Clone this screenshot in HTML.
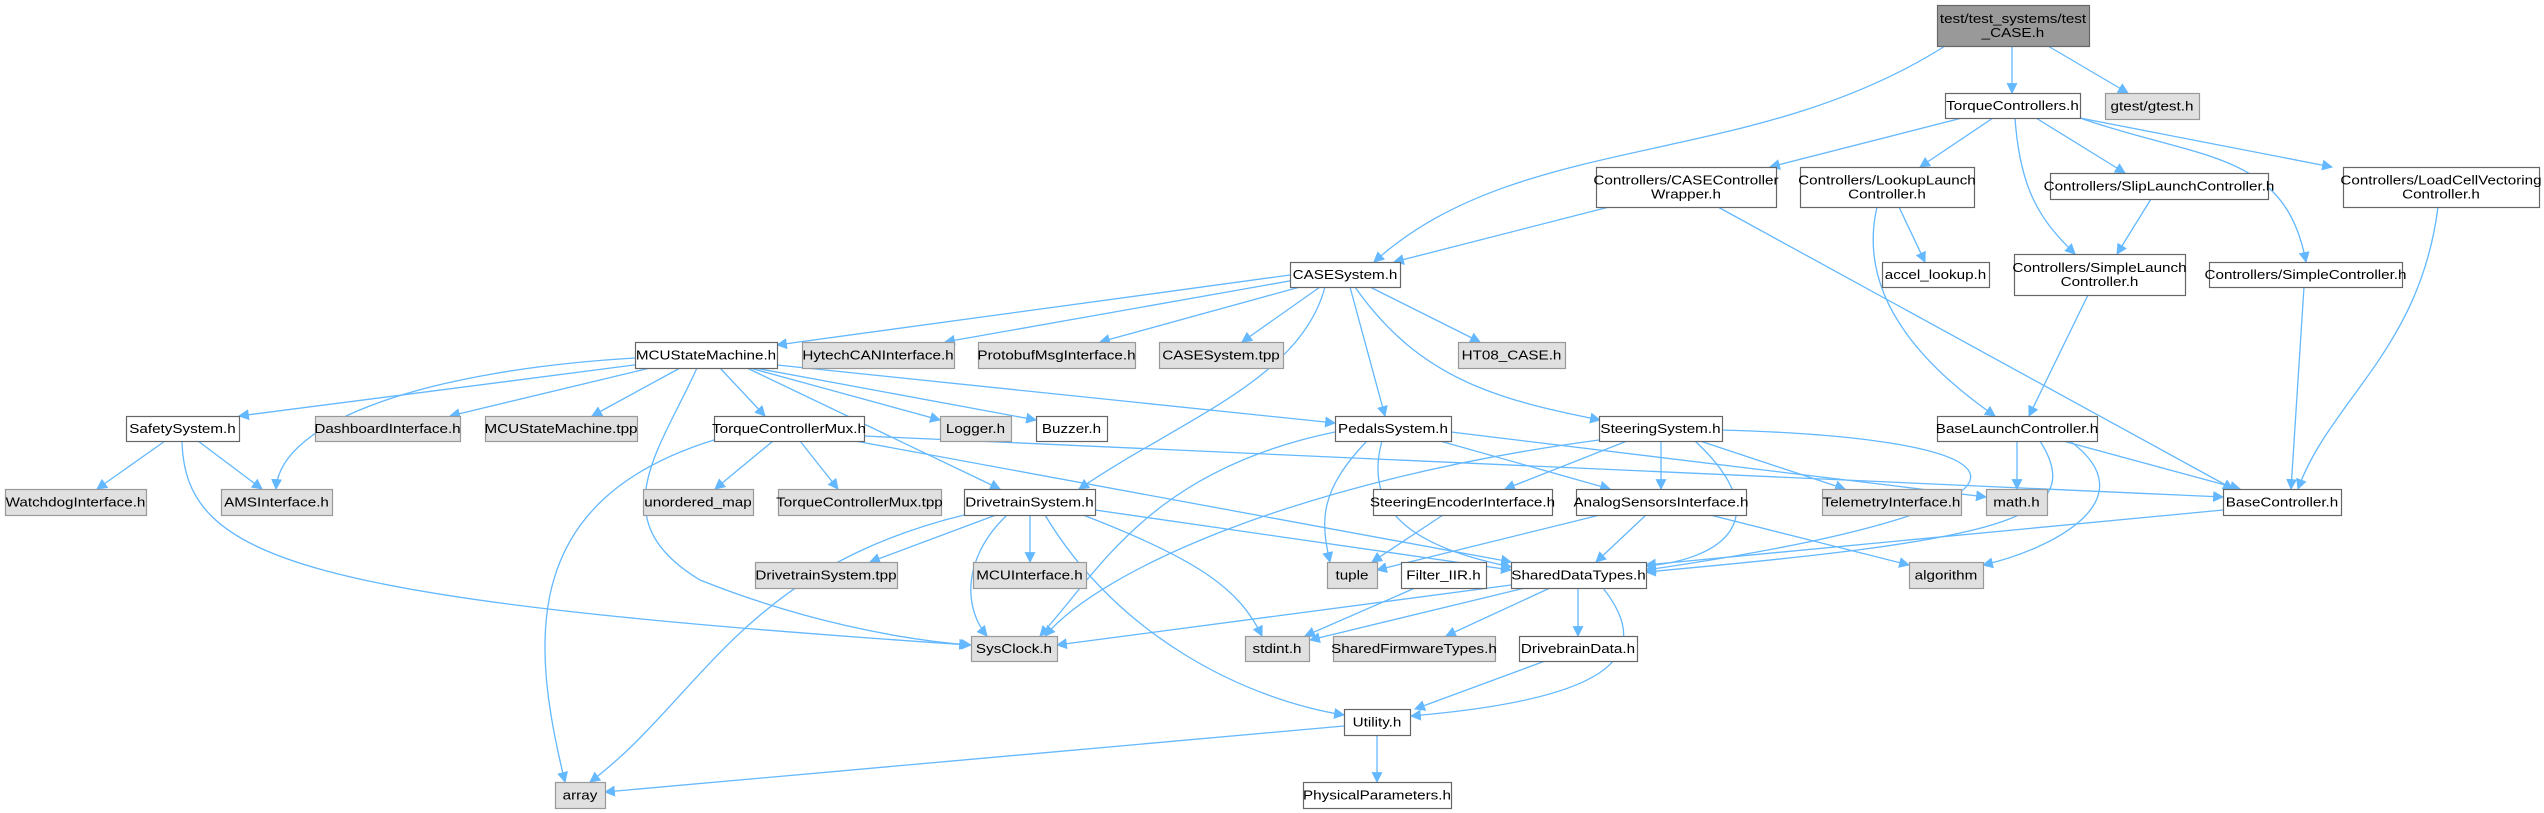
<!DOCTYPE html>
<html><head><meta charset="utf-8">
<style>
html,body{margin:0;padding:0;background:#fff;}
svg{display:block;}
text{font-family:"Liberation Sans",Arial,sans-serif;font-size:13px;fill:#000;}
</style></head>
<body>
<svg id="g" width="2544" height="813" viewBox="0 0 2544 813" xmlns="http://www.w3.org/2000/svg">
<defs>
<marker id="a" viewBox="0 0 10 10" refX="9" refY="5" markerWidth="11" markerHeight="11" markerUnits="userSpaceOnUse" orient="auto">
<path d="M0,0 L10,5 L0,10 z" fill="#63b8ff"/>
</marker>
</defs>
<g id="edges" fill="none" stroke="#63b8ff" stroke-width="1.3"></g>
<g id="nodes"></g>
</svg>
<script>
var N=[
[1937,2089,5,46,'r',['test/test_systems/test','_CASE.h']],
[1945,2080,93,118,'w',['TorqueControllers.h']],
[2105,2199,93,119,'g',['gtest/gtest.h']],
[1596,1776,167,207,'w',['Controllers/CASEController','Wrapper.h']],
[1800,1974,167,207,'w',['Controllers/LookupLaunch','Controller.h']],
[2050,2268,173,199,'w',['Controllers/SlipLaunchController.h']],
[2343,2539,167,207,'w',['Controllers/LoadCellVectoring','Controller.h']],
[1290,1400,262,287,'w',['CASESystem.h']],
[1882,1989,262,287,'w',['accel_lookup.h']],
[2014,2185,254,295,'w',['Controllers/SimpleLaunch','Controller.h']],
[2209,2402,262,287,'w',['Controllers/SimpleController.h']],
[1458,1565,342,368,'g',['HT08_CASE.h']],
[635,777,342,368,'w',['MCUStateMachine.h']],
[802,954,342,368,'g',['HytechCANInterface.h']],
[978,1135,342,368,'g',['ProtobufMsgInterface.h']],
[1159,1283,342,368,'g',['CASESystem.tpp']],
[126,239,416,441,'w',['SafetySystem.h']],
[315,460,416,441,'g',['DashboardInterface.h']],
[485,637,416,441,'g',['MCUStateMachine.tpp']],
[714,864,416,441,'w',['TorqueControllerMux.h']],
[940,1011,416,441,'g',['Logger.h']],
[1036,1107,416,441,'w',['Buzzer.h']],
[1335,1451,416,441,'w',['PedalsSystem.h']],
[1599,1722,416,441,'w',['SteeringSystem.h']],
[1937,2097,416,441,'w',['BaseLaunchController.h']],
[5,146,489,515,'g',['WatchdogInterface.h']],
[221,332,489,515,'g',['AMSInterface.h']],
[643,753,489,515,'g',['unordered_map']],
[778,941,489,515,'g',['TorqueControllerMux.tpp']],
[964,1095,489,515,'w',['DrivetrainSystem.h']],
[1373,1552,489,515,'w',['SteeringEncoderInterface.h']],
[1576,1746,489,515,'w',['AnalogSensorsInterface.h']],
[1822,1961,489,515,'g',['TelemetryInterface.h']],
[1986,2047,489,515,'g',['math.h']],
[2223,2341,489,515,'w',['BaseController.h']],
[755,897,562,588,'g',['DrivetrainSystem.tpp']],
[973,1086,562,588,'g',['MCUInterface.h']],
[1327,1377,562,588,'g',['tuple']],
[1401,1486,562,588,'w',['Filter_IIR.h']],
[1511,1646,562,588,'w',['SharedDataTypes.h']],
[1909,1983,562,588,'g',['algorithm']],
[971,1057,636,661,'g',['SysClock.h']],
[1245,1309,636,661,'g',['stdint.h']],
[1333,1495,636,661,'g',['SharedFirmwareTypes.h']],
[1519,1637,636,661,'w',['DrivebrainData.h']],
[1344,1410,709,735,'w',['Utility.h']],
[555,605,782,808,'g',['array']],
[1303,1451,782,808,'w',['PhysicalParameters.h']]
];
var E=[
"M1945,46 C1750,170 1520,130 1374,262",
"M2012,46 L2012,93",
"M2048,46 L2128,93",
"M1962,118 L1770,167",
"M1993,118 L1920,167",
"M2015,118 C2020,190 2040,220 2075,254",
"M2036,118 L2125,173",
"M2080,118 C2200,160 2285,150 2306,262",
"M2080,118 L2332,167",
"M1609,207 L1394,262",
"M1718,207 L2233,489",
"M1877,207 C1860,280 1900,350 1995,416",
"M1899,207 L1925,262",
"M2151,199 L2117,254",
"M2088,295 L2029,416",
"M2304,287 L2291,489",
"M2438,207 C2420,350 2330,400 2298,489",
"M1290,275 L777,345",
"M1295,280 L945,342",
"M1300,287 L1100,342",
"M1320,287 L1242,342",
"M1370,287 L1480,342",
"M1325,287 C1300,380 1180,420 1079,489",
"M1350,287 L1385,416",
"M1355,287 C1420,380 1500,400 1600,420",
"M642,364 L239,416",
"M635,358 C430,370 280,420 276,489",
"M650,368 L450,416",
"M680,368 L592,416",
"M697,368 C660,450 600,520 700,580 C800,620 900,640 971,645",
"M720,368 L765,416",
"M747,368 L1000,489",
"M750,368 L940,420",
"M755,368 L1036,420",
"M777,365 L1335,423",
"M165,441 L97,489",
"M198,441 L262,489",
"M182,441 C185,560 300,600 969,645",
"M714,440 C520,500 530,640 565,782",
"M773,441 L715,489",
"M800,441 L838,489",
"M864,436 L2223,497",
"M855,441 L1511,562",
"M964,515 C740,570 700,700 590,782",
"M996,515 L870,562",
"M1030,515 L1030,562",
"M1007,515 C960,560 965,610 987,636",
"M1083,515 C1200,560 1240,590 1262,636",
"M1045,515 C1120,640 1250,700 1344,715",
"M1095,510 L1511,570",
"M1335,432 C1150,470 1100,570 1040,636",
"M1367,441 C1320,490 1320,520 1330,562",
"M1382,441 C1360,520 1430,550 1511,567",
"M1440,441 L1610,489",
"M1451,432 L1986,497",
"M1599,440 C1300,480 1100,570 1045,636",
"M1627,441 L1505,489",
"M1661,441 L1661,489",
"M1700,441 L1845,489",
"M1695,441 C1780,520 1720,560 1646,566",
"M1722,430 C2070,440 2060,510 1646,570",
"M1443,515 L1372,562",
"M1600,515 L1377,570",
"M1646,515 L1596,562",
"M1710,515 L1909,565",
"M2017,441 L2017,489",
"M2063,441 L2240,489",
"M2040,441 C2090,520 2000,540 1646,572",
"M2070,441 C2150,500 2050,550 1983,565",
"M2223,510 L1646,565",
"M1415,588 L1305,636",
"M1511,585 L1057,645",
"M1525,588 L1310,640",
"M1550,588 L1446,636",
"M1578,588 L1578,636",
"M1603,588 C1660,660 1600,700 1411,716",
"M1545,661 L1415,709",
"M1344,726 L605,792",
"M1377,735 L1377,782"
];
var ns="http://www.w3.org/2000/svg";
var eg=document.getElementById('edges'),ng=document.getElementById('nodes');
E.forEach(function(d){var p=document.createElementNS(ns,'path');p.setAttribute('d',d);p.setAttribute('marker-end','url(#a)');eg.appendChild(p);});
N.forEach(function(n){
 var r=document.createElementNS(ns,'rect');
 r.setAttribute('x',n[0]+0.5);r.setAttribute('y',n[2]+0.5);
 r.setAttribute('width',n[1]-n[0]);r.setAttribute('height',n[3]-n[2]);
 var f=n[4]=='r'?'#999999':(n[4]=='g'?'#e0e0e0':'#ffffff');
 var s=n[4]=='g'?'#999999':'#666666';
 r.setAttribute('fill',f);r.setAttribute('stroke',s);r.setAttribute('stroke-width','1.2');
 ng.appendChild(r);
 var cx=(n[0]+n[1])/2,cy=(n[2]+n[3])/2,L=n[5].length;
 n[5].forEach(function(t,i){
  var tx=document.createElementNS(ns,'text');
  tx.setAttribute('x',cx);tx.setAttribute('y',cy+(i-(L-1)/2)*14+4.5);
  tx.setAttribute('text-anchor','middle');tx.textContent=t;
  ng.appendChild(tx);
  try{var w=tx.getComputedTextLength();tx.setAttribute('textLength',(w*1.17).toFixed(1));tx.setAttribute('lengthAdjust','spacingAndGlyphs');}catch(e){}
 });
});
</script>
</body></html>
